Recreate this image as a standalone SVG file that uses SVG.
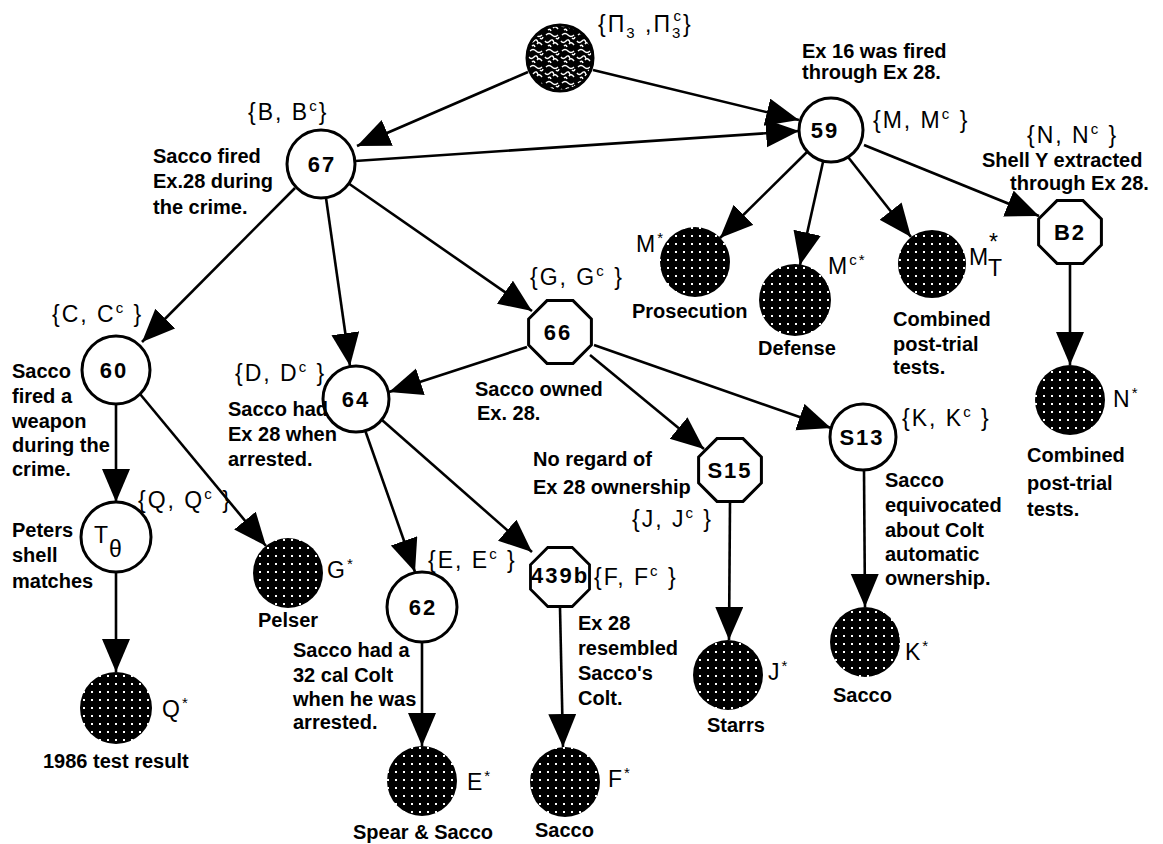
<svg xmlns="http://www.w3.org/2000/svg" width="1163" height="844" viewBox="0 0 1163 844">
<style>
.t{font-family:"Liberation Sans",Arial,sans-serif;font-size:20px;font-weight:bold;fill:#000}
.s{font-family:"Liberation Sans",Arial,sans-serif;font-size:23px;letter-spacing:2px;fill:#000}
.n{font-family:"Liberation Sans",Arial,sans-serif;font-size:22px;font-weight:bold;letter-spacing:2px;text-anchor:middle;fill:#000}
.node{fill:#fff;stroke:#000;stroke-width:3}
.ev{fill:url(#dots);stroke:none}
.e{stroke:#000;stroke-width:2.6;fill:none;marker-end:url(#ah)}
</style>
<defs>
<marker id="ah" markerUnits="userSpaceOnUse" markerWidth="34" markerHeight="30" refX="33" refY="14" orient="auto"><path d="M0,0 L33,14 L0,28 z" fill="#000"/></marker>
<pattern id="dots" width="8" height="8" patternUnits="userSpaceOnUse"><rect width="8" height="8" fill="#000"/><rect x="3" y="3" width="2" height="2" fill="#fff"/></pattern>
<pattern id="squig" width="16" height="16" patternUnits="userSpaceOnUse"><rect width="16" height="16" fill="#000"/><path d="M2,3 q3,-3 6,0 t6,0 M1,9 q2,3 5,0 q3,-3 4,2 M9,12 q2,-3 5,1 M4,14 q2,-2 3,1 M12,6 q2,2 3,-1" stroke="#fff" stroke-width="1.4" fill="none"/></pattern>
<polygon id="oct" points="31.4,-13 13,-31.4 -13,-31.4 -31.4,-13 -31.4,13 -13,31.4 13,31.4 31.4,13"/>
</defs>
<rect width="1163" height="844" fill="#fff"/>

<g id="connectors">
<line class="e" x1="528" y1="72" x2="357" y2="146"/>
<line class="e" x1="593" y1="70" x2="799" y2="120"/>
<line class="e" x1="355" y1="161" x2="799" y2="131"/>
<line class="e" x1="807" y1="152" x2="720" y2="238"/>
<line class="e" x1="823" y1="162" x2="800" y2="265"/>
<line class="e" x1="848" y1="157" x2="911" y2="237"/>
<line class="e" x1="864" y1="145" x2="1039" y2="216"/>
<line class="e" x1="1070" y1="265" x2="1070" y2="365"/>
<line class="e" x1="295" y1="188" x2="142" y2="342"/>
<line class="e" x1="326" y1="198" x2="350" y2="366"/>
<line class="e" x1="348" y1="183" x2="532" y2="311"/>
<line class="e" x1="527" y1="347" x2="389" y2="392"/>
<line class="e" x1="590" y1="355" x2="704" y2="449"/>
<line class="e" x1="594" y1="345" x2="831" y2="428"/>
<line class="e" x1="864" y1="470" x2="865" y2="607"/>
<line class="e" x1="730" y1="503" x2="729" y2="640"/>
<line class="e" x1="365" y1="430" x2="415" y2="572"/>
<line class="e" x1="382" y1="420" x2="532" y2="552"/>
<line class="e" x1="560" y1="608" x2="563" y2="747"/>
<line class="e" x1="422" y1="642" x2="422" y2="746"/>
<line class="e" x1="116" y1="404" x2="116" y2="502"/>
<line class="e" x1="116" y1="572" x2="116" y2="672"/>
<line class="e" x1="140" y1="394" x2="266" y2="546"/>
</g>

<g id="pi3">
<circle cx="560" cy="58" r="33" fill="url(#squig)" stroke="#000" stroke-width="3"/>
<text class="s" x="598" y="32">{Π<tspan font-size="15" dy="6">3</tspan><tspan dy="-6"> ,Π</tspan><tspan font-size="15" dy="6">3</tspan><tspan font-size="15" dx="-9" dy="-17">c</tspan><tspan dy="11">}</tspan></text>
</g>

<g id="n67">
<circle class="node" cx="321" cy="164" r="34"/>
<text class="n" x="322" y="172">67</text>
<text class="s" x="248" y="120">{B, B<tspan font-size="15" dy="-9">c</tspan><tspan dy="9">}</tspan></text>
<text class="t" x="153" y="163">Sacco fired</text>
<text class="t" x="153" y="188">Ex.28 during</text>
<text class="t" x="153" y="214">the crime.</text>
</g>

<g id="n59">
<circle class="node" cx="831" cy="130" r="32"/>
<text class="n" x="825" y="138">59</text>
<text class="s" x="873" y="128">{M, M<tspan font-size="15" dy="-9">c</tspan><tspan dy="9"> }</tspan></text>
<text class="t" x="802" y="58">Ex 16 was fired</text>
<text class="t" x="802" y="79">through Ex 28.</text>
</g>

<g id="nB2">
<use href="#oct" transform="translate(1070,232)" class="node"/>
<text class="n" x="1070" y="240">B2</text>
<text class="s" x="1027" y="143">{N, N<tspan font-size="15" dy="-9">c</tspan><tspan dy="9"> }</tspan></text>
<text class="t" x="982" y="167">Shell Y extracted</text>
<text class="t" x="1010" y="190">through Ex 28.</text>
</g>

<g id="eM">
<circle class="ev" cx="695" cy="262" r="35"/>
<text class="s" x="636" y="252">M<tspan font-size="15" dy="-9">*</tspan></text>
<text class="t" x="632" y="318">Prosecution</text>
</g>

<g id="eMc">
<circle class="ev" cx="795" cy="300" r="36"/>
<text class="s" x="828" y="274">M<tspan font-size="15" dy="-9">c*</tspan></text>
<text class="t" x="758" y="355">Defense</text>
</g>

<g id="eMT">
<circle class="ev" cx="932" cy="264" r="34"/>
<text class="s" x="969" y="265">M</text>
<text class="s" x="989" y="250" font-size="15">*</text>
<text class="s" x="988" y="276" font-size="17">T</text>
<text class="t" x="893" y="326">Combined</text>
<text class="t" x="893" y="351">post-trial</text>
<text class="t" x="893" y="374">tests.</text>
</g>

<g id="eN">
<circle class="ev" cx="1070" cy="400" r="35"/>
<text class="s" x="1113" y="407">N<tspan font-size="15" dy="-9">*</tspan></text>
<text class="t" x="1027" y="462">Combined</text>
<text class="t" x="1027" y="490">post-trial</text>
<text class="t" x="1027" y="516">tests.</text>
</g>

<g id="n60">
<circle class="node" cx="116" cy="370" r="34"/>
<text class="n" x="114" y="378">60</text>
<text class="s" x="52" y="322">{C, C<tspan font-size="15" dy="-9">c</tspan><tspan dy="9"> }</tspan></text>
<text class="t" x="12" y="378">Sacco</text>
<text class="t" x="12" y="403">fired a</text>
<text class="t" x="12" y="428">weapon</text>
<text class="t" x="12" y="452">during the</text>
<text class="t" x="12" y="476">crime.</text>
</g>

<g id="n64">
<circle class="node" cx="356" cy="399" r="33"/>
<text class="n" x="356" y="407">64</text>
<text class="s" x="235" y="381">{D, D<tspan font-size="15" dy="-9">c</tspan><tspan dy="9"> }</tspan></text>
<text class="t" x="228" y="416">Sacco had</text>
<text class="t" x="228" y="441">Ex 28 when</text>
<text class="t" x="228" y="466">arrested.</text>
</g>

<g id="n66">
<use href="#oct" transform="translate(560,332)" class="node"/>
<text class="n" x="558" y="340">66</text>
<text class="s" x="530" y="285">{G, G<tspan font-size="15" dy="-9">c</tspan><tspan dy="9"> }</tspan></text>
<text class="t" x="475" y="396">Sacco owned</text>
<text class="t" x="477" y="420">Ex. 28.</text>
</g>

<g id="nT">
<circle class="node" cx="116" cy="537" r="35"/>
<text class="s" x="94" y="543" font-size="20">T</text>
<text class="s" x="109" y="557" font-size="20">θ</text>
<text class="s" x="138" y="508">{Q, Q<tspan font-size="15" dy="-9">c</tspan><tspan dy="9"> }</tspan></text>
<text class="t" x="12" y="537">Peters</text>
<text class="t" x="12" y="562">shell</text>
<text class="t" x="12" y="588">matches</text>
</g>

<g id="eQ">
<circle class="ev" cx="116" cy="708" r="36"/>
<text class="s" x="162" y="717">Q<tspan font-size="15" dy="-9">*</tspan></text>
<text class="t" x="43" y="768">1986 test result</text>
</g>

<g id="eG">
<circle class="ev" cx="288" cy="573" r="35"/>
<text class="s" x="327" y="578">G<tspan font-size="15" dy="-9">*</tspan></text>
<text class="t" x="258" y="627">Pelser</text>
</g>

<g id="n62">
<circle class="node" cx="422" cy="607" r="35"/>
<text class="n" x="423" y="615">62</text>
<text class="s" x="428" y="568">{E, E<tspan font-size="15" dy="-9">c</tspan><tspan dy="9"> }</tspan></text>
<text class="t" x="293" y="657">Sacco had a</text>
<text class="t" x="293" y="682">32 cal Colt</text>
<text class="t" x="293" y="706">when he was</text>
<text class="t" x="293" y="729">arrested.</text>
</g>

<g id="eE">
<circle class="ev" cx="422" cy="781" r="35"/>
<text class="s" x="467" y="790">E<tspan font-size="15" dy="-9">*</tspan></text>
<text class="t" x="353" y="839">Spear &amp; Sacco</text>
</g>

<g id="n439b">
<use href="#oct" transform="translate(560,577) scale(0.94)" class="node"/>
<text class="n" x="560" y="583" font-size="15" letter-spacing="0">439b</text>
<text class="s" x="594" y="585">{F, F<tspan font-size="15" dy="-9">c</tspan><tspan dy="9"> }</tspan></text>
<text class="t" x="578" y="630">Ex 28</text>
<text class="t" x="578" y="655">resembled</text>
<text class="t" x="578" y="680">Sacco's</text>
<text class="t" x="578" y="705">Colt.</text>
</g>

<g id="eF">
<circle class="ev" cx="565" cy="782" r="35"/>
<text class="s" x="608" y="787">F<tspan font-size="15" dy="-9">*</tspan></text>
<text class="t" x="535" y="837">Sacco</text>
</g>

<g id="nS15">
<use href="#oct" transform="translate(730,470)" class="node"/>
<text class="n" x="730" y="478">S15</text>
<text class="t" x="533" y="466">No regard of</text>
<text class="t" x="533" y="494">Ex 28 ownership</text>
<text class="s" x="632" y="527">{J, J<tspan font-size="15" dy="-9">c</tspan><tspan dy="9"> }</tspan></text>
</g>

<g id="eJ">
<circle class="ev" cx="728" cy="675" r="35"/>
<text class="s" x="768" y="680">J<tspan font-size="15" dy="-9">*</tspan></text>
<text class="t" x="707" y="732">Starrs</text>
</g>

<g id="nS13">
<circle class="node" cx="863" cy="437" r="33"/>
<text class="n" x="862" y="445">S13</text>
<text class="s" x="902" y="426">{K, K<tspan font-size="15" dy="-9">c</tspan><tspan dy="9"> }</tspan></text>
<text class="t" x="885" y="487">Sacco</text>
<text class="t" x="885" y="512">equivocated</text>
<text class="t" x="885" y="537">about Colt</text>
<text class="t" x="885" y="561">automatic</text>
<text class="t" x="885" y="585">ownership.</text>
</g>

<g id="eK">
<circle class="ev" cx="865" cy="642" r="35"/>
<text class="s" x="905" y="660">K<tspan font-size="15" dy="-9">*</tspan></text>
<text class="t" x="833" y="702">Sacco</text>
</g>
</svg>
